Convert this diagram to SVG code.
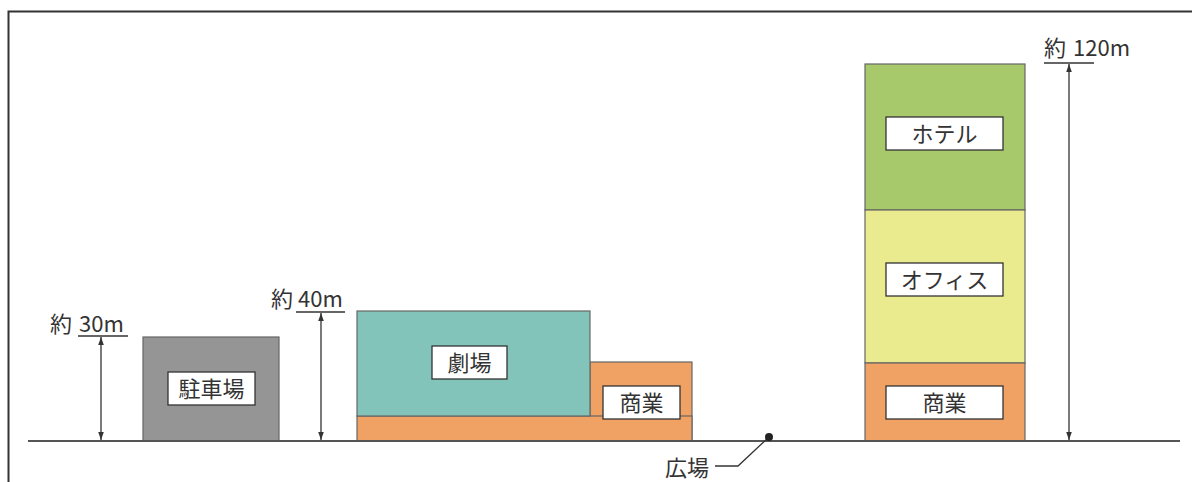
<svg xmlns="http://www.w3.org/2000/svg" width="1192" height="482" viewBox="0 0 1192 482">
<style>
.frame{fill:none;stroke:#333;stroke-width:2}
.bld{stroke:#666;stroke-width:1.2}
.lbl{fill:#fff;stroke:#333;stroke-width:1.3}
.t{font-family:"Noto Sans CJK JP","Noto Sans",sans-serif;font-size:22px;fill:#333}
.c{text-anchor:middle}
.dim{stroke:#333;stroke-width:1.3;fill:none}
.ground{stroke:#555;stroke-width:2}
</style>
<defs>
<marker id="ah" viewBox="0 0 10 10" refX="10" refY="5" markerWidth="8" markerHeight="10" markerUnits="userSpaceOnUse" orient="auto-start-reverse">
<path d="M0,1.5 L10,5 L0,8.5 Z" fill="#333"/>
</marker>
</defs>
<rect width="1192" height="482" fill="#fff"/>
<path class="frame" d="M8.5,482 V11.5 H1192"/>

<g id="parking">
<rect class="bld" x="143" y="337" width="136" height="104" fill="#959595"/>
<rect class="lbl" x="168" y="372" width="87" height="33"/>
<text class="t c" x="211.5" y="396.5">駐車場</text>
</g>

<g id="theater-complex">
<rect class="bld" x="590" y="362" width="102" height="79" fill="#f0a264"/>
<rect class="bld" x="357" y="416" width="335" height="25" fill="#f0a264"/>
<rect class="bld" x="357" y="311" width="233" height="105" fill="#82c4ba"/>
</g>
<g id="theater">
<rect class="lbl" x="432" y="346" width="75" height="33"/>
<text class="t c" x="469.5" y="370.5">劇場</text>
</g>
<g id="shop1">
<rect class="lbl" x="603" y="386" width="77" height="33"/>
<text class="t c" x="641.5" y="410.5">商業</text>
</g>

<g id="tower">
<rect class="bld" x="865" y="64" width="160" height="146" fill="#a8c86c"/>
<rect class="bld" x="865" y="210" width="160" height="153" fill="#eaea8e"/>
<rect class="bld" x="865" y="363" width="160" height="78" fill="#f0a264"/>
</g>
<g id="hotel">
<rect class="lbl" x="886" y="117" width="117" height="33"/>
<text class="t c" x="944.5" y="141.5">ホテル</text>
</g>
<g id="office">
<rect class="lbl" x="886" y="263" width="117" height="33"/>
<text class="t c" x="944.5" y="287.5">オフィス</text>
</g>
<g id="shop2">
<rect class="lbl" x="886" y="386" width="117" height="33"/>
<text class="t c" x="944.5" y="410.5">商業</text>
</g>

<g id="connectors">
<line class="ground" x1="28" y1="441" x2="1180" y2="441"/>
<line class="dim" x1="78" y1="336" x2="128" y2="336"/>
<line class="dim" x1="101" y1="337" x2="101" y2="440" marker-start="url(#ah)" marker-end="url(#ah)"/>
<line class="dim" x1="296" y1="312" x2="345" y2="312"/>
<line class="dim" x1="321" y1="313" x2="321" y2="440" marker-start="url(#ah)" marker-end="url(#ah)"/>
<line class="dim" x1="1044" y1="63" x2="1094" y2="63"/>
<line class="dim" x1="1069" y1="64" x2="1069" y2="440" marker-start="url(#ah)" marker-end="url(#ah)"/>
<polyline class="dim" points="715,466 738,466 769,437"/>
<circle cx="769" cy="437" r="4" fill="#222"/>
</g>

<g id="labels">
<text class="t" x="50" y="332">約 <tspan x="79">30m</tspan></text>
<text class="t" x="271" y="307">約 <tspan x="298">40m</tspan></text>
<text class="t" x="1044" y="56">約 <tspan x="1073">120m</tspan></text>
<text class="t" x="665" y="476">広場</text>
</g>
</svg>
